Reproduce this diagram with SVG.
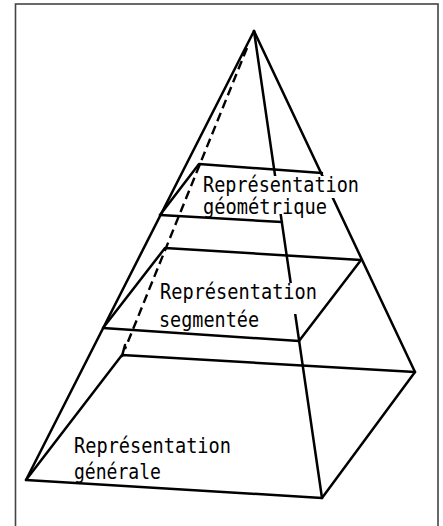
<svg xmlns="http://www.w3.org/2000/svg" width="443" height="526" viewBox="0 0 443 526">
<style>
.e{stroke:#000;stroke-width:2.5;fill:none;stroke-linecap:round;stroke-linejoin:round}
.d{stroke:#000;stroke-width:2.4;fill:none;stroke-dasharray:9 5}
.bg{fill:#fff;stroke:none}
.t{font-family:"DejaVu Sans Mono","Liberation Mono",monospace;font-size:22px;fill:#000}
</style>
<rect width="443" height="526" fill="#fff"/>
<rect x="15.5" y="4" width="422.5" height="530" fill="none" stroke="#444" stroke-width="1.6"/>
<g id="connectors">
<line class="e" x1="254" y1="31" x2="26" y2="480"/>
<line class="e" x1="254" y1="31" x2="322" y2="498"/>
<line class="e" x1="254" y1="31" x2="415" y2="372"/>
<line class="d" x1="247" y1="48" x2="125" y2="349"/>
<line class="e" x1="125" y1="345" x2="122" y2="356"/>
</g>
<g id="layer-geometrique">
<polyline class="e" points="160,215 199,164 322,173"/>
<line class="e" x1="160" y1="215" x2="282" y2="222"/>
</g>
<g id="layer-segmentee">
<polyline class="e" points="103,328 165,248 361,260 299,341 103,328"/>
</g>
<g id="layer-generale">
<polyline class="e" points="26,480 122,355 415,372 322,498 26,480"/>
</g>
<g id="label-geometrique">
<rect class="bg" x="199" y="176" width="162" height="22"/>
<rect class="bg" x="199" y="198" width="129" height="16"/>
<text class="t" x="203" y="192" textLength="156" lengthAdjust="spacingAndGlyphs">Représentation</text>
<text class="t" x="203" y="214" textLength="124" lengthAdjust="spacingAndGlyphs">géométrique</text>
</g>
<g id="label-segmentee">
<rect class="bg" x="157" y="283" width="164" height="21"/>
<rect class="bg" x="157" y="304" width="143" height="10"/>
<text class="t" x="160" y="299" textLength="157" lengthAdjust="spacingAndGlyphs">Représentation</text>
<text class="t" x="159" y="327" textLength="100" lengthAdjust="spacingAndGlyphs">segmentée</text>
</g>
<g id="label-generale">
<text class="t" x="74" y="453" textLength="157" lengthAdjust="spacingAndGlyphs">Représentation</text>
<text class="t" x="74" y="479" textLength="87" lengthAdjust="spacingAndGlyphs">générale</text>
</g>
</svg>
